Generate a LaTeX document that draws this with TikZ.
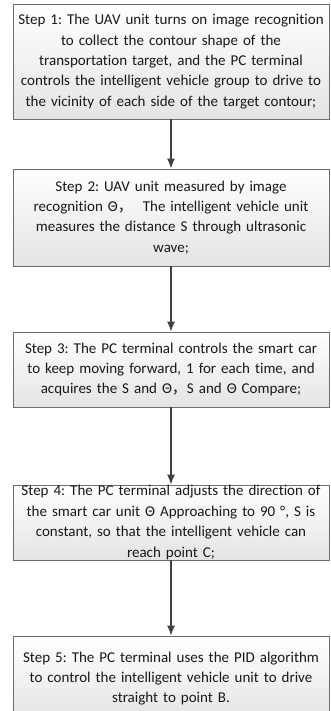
\documentclass[tikz,border=0pt]{standalone}
\usepackage{fontspec}
\setmainfont{Carlito}[Ligatures=NoCommon]
\newfontfamily\cjk{Noto Sans CJK SC}
\usetikzlibrary{shadows}
\definecolor{boxline}{HTML}{6E6E6E}
\definecolor{boxfill}{HTML}{E4E4E4}
\definecolor{arrowline}{HTML}{404040}
\newcommand{\fwcomma}{{\cjk ，}}
\frenchspacing
\tikzset{
  stepbox/.style={draw=boxline,line width=0.8bp,top color=white,bottom color=boxfill,
    drop shadow={shadow xshift=1.2bp,shadow yshift=-1.2bp,fill=black!45},
    minimum width=316bp,text width=312bp,align=center,inner xsep=2bp,inner ysep=0bp,
    font=\fontsize{15bp}{20.4bp}\selectfont,text=black!90},
  flow/.style={arrowline,line width=1.3bp,-{Latex[length=10bp,width=8bp]}},
}
\usetikzlibrary{arrows.meta}
\begin{document}
\begin{tikzpicture}[x=1bp,y=1bp]
\useasboundingbox (0,0) rectangle (330,711);
%%
\node (step_1) at (171,649.5) [stepbox,minimum height=115bp] {Step 1: The UAV unit turns on image recognition\\ to collect the contour shape of the\\ transportation target, and the PC terminal\\ controls the intelligent vehicle group to drive to\\ the vicinity of each side of the target contour;};
  \node (step_2) at (171,493.5) [stepbox,minimum height=97bp] {Step 2: UAV unit measured by image\\ recognition Θ\fwcomma\ \ The intelligent vehicle unit\\ measures the distance S through ultrasonic\\ wave;};
  \node (step_3) at (171,341.5) [stepbox,minimum height=75bp] {Step 3: The PC terminal controls the smart car\\ to keep moving forward, 1 for each time, and\\ acquires the S and Θ\fwcomma S and Θ Compare;};
  \node (step_4) at (171,188.5) [stepbox,minimum height=75bp,inner ysep=-4.5bp] {Step 4: The PC terminal adjusts the direction of\\ the smart car unit Θ Approaching to 90 °, S is\\ constant, so that the intelligent vehicle can\\ reach point C;};
  \node (step_5) at (171,32.5) [stepbox,minimum height=85bp] {Step 5: The PC terminal uses the PID algorithm\\ to control the intelligent vehicle unit to drive\\ straight to point B.\\[6bp]};
  \draw [flow] (step_1) -- (step_2);
  \draw [flow] (step_2) -- (step_3);
  \draw [flow] (step_3) -- (step_4);
  \draw [flow] (step_4) -- (step_5);
%
\end{tikzpicture}
\end{document}
